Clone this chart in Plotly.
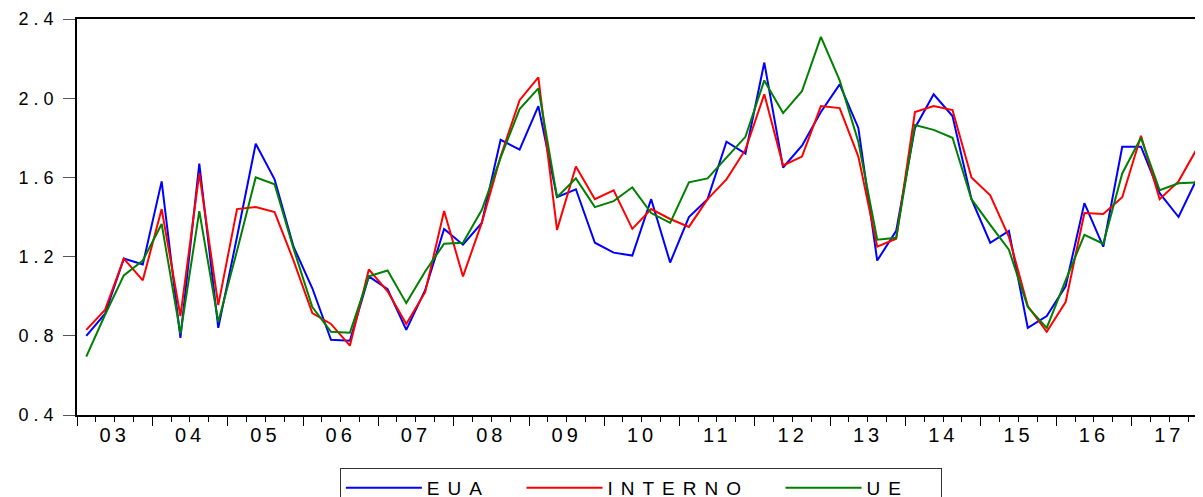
import pandas as pd
import plotly.graph_objects as go

quarters = pd.period_range("2003Q1", "2017Q4", freq="Q")
x_mid = [p.start_time + (p.end_time - p.start_time) / 2 for p in quarters]

eua = [0.80, 0.91, 1.19, 1.16, 1.58, 0.79, 1.67, 0.84, 1.30, 1.77,
       1.59, 1.25, 1.04, 0.78, 0.775, 1.10, 1.035, 0.83, 1.03, 1.34,
       1.26, 1.37, 1.79, 1.74, 1.96, 1.50, 1.54, 1.27, 1.22, 1.205,
       1.49, 1.17, 1.40, 1.49, 1.78, 1.72, 2.18, 1.65, 1.76, 1.93,
       2.07, 1.85, 1.18, 1.33, 1.85, 2.02, 1.91, 1.49, 1.27, 1.33,
       0.84, 0.90, 1.05, 1.47, 1.25, 1.755, 1.755, 1.52, 1.40, 1.60]

interno = [0.83, 0.93, 1.19, 1.08, 1.44, 0.90, 1.62, 0.955, 1.44, 1.45,
           1.425, 1.18, 0.915, 0.86, 0.75, 1.135, 1.025, 0.86, 1.02, 1.43,
           1.10, 1.37, 1.705, 1.99, 2.105, 1.335, 1.655, 1.49, 1.535, 1.34,
           1.44, 1.39, 1.35, 1.49, 1.59, 1.74, 2.02, 1.66, 1.705, 1.96,
           1.95, 1.705, 1.25, 1.29, 1.93, 1.96, 1.94, 1.60, 1.51, 1.30,
           0.95, 0.82, 0.97, 1.42, 1.415, 1.50, 1.81, 1.49, 1.58, 1.75]

ue = [0.695, 0.905, 1.105, 1.18, 1.365, 0.81, 1.43, 0.87, 1.23, 1.60,
      1.565, 1.24, 0.945, 0.82, 0.815, 1.10, 1.13, 0.965, 1.125, 1.265,
      1.27, 1.435, 1.70, 1.945, 2.05, 1.50, 1.595, 1.45, 1.48, 1.55,
      1.42, 1.37, 1.575, 1.595, 1.70, 1.805, 2.09, 1.925, 2.035, 2.31,
      2.09, 1.78, 1.285, 1.295, 1.865, 1.84, 1.80, 1.49, 1.36, 1.235,
      0.945, 0.84, 1.08, 1.31, 1.265, 1.62, 1.80, 1.535, 1.57, 1.575]

series_names = ["EUA", "INTERNO", "UE"]
series_colors = ["#0000FF", "#FF0000", "#008000"]
y_ticks = [0.4, 0.8, 1.2, 1.6, 2.0, 2.4]
y_ticktext = ["0.4", "0.8", "1.2", "1.6", "2.0", "2.4"]

FONT = "Liberation Sans, Arial, sans-serif"


def spaced(s, px, tail=""):
    return f'<span style="letter-spacing:{px}px">{s}{tail}</span>'


fig = go.Figure()
for name, vals, col in zip(series_names, [eua, interno, ue], series_colors):
    fig.add_trace(go.Scatter(x=x_mid, y=vals, mode="lines",
                             name=spaced(name, 8, "&nbsp;&nbsp;"),
                             line=dict(color=col, width=2)))

fig.update_layout(
    width=1203, height=497,
    margin=dict(l=69, r=4, t=11, b=90, autoexpand=False),
    paper_bgcolor="white", plot_bgcolor="white",
    font=dict(family=FONT, color="black"),
    showlegend=True,
    legend=dict(orientation="h",
                x=0.499, xanchor="center", y=-0.1334, yanchor="top",
                bordercolor="#333333", borderwidth=1, bgcolor="white",
                font=dict(size=19, family=FONT), itemwidth=76,
                tracegroupgap=0),
    xaxis=dict(
        type="date", automargin=False,
        range=["2003-01-01", "2018-01-01"],
        dtick="M12", tick0="2003-01-01",
        tickformat='<span style="letter-spacing:4px">%y</span>',
        ticklabelmode="period",
        ticks="outside", ticklen=9, tickwidth=1, tickcolor="black",
        showline=True, linecolor="black", linewidth=1.5, mirror=True,
        showgrid=False, zeroline=False,
        tickfont=dict(size=20, family=FONT),
        ticklabelstandoff=-8,
        minor=dict(dtick="M3", tick0="2003-01-01", ticks="outside", ticklen=5,
                   tickwidth=1, tickcolor="black", showgrid=False),
    ),
    yaxis=dict(
        range=[0.4, 2.4], tickvals=y_ticks,
        ticktext=[spaced(t, 5) for t in y_ticktext],
        automargin=False,
        ticks="outside", ticklen=12, tickwidth=1, tickcolor="#555555",
        showline=True, linecolor="black", linewidth=1.5, mirror=False,
        showgrid=False, zeroline=False,
        tickfont=dict(size=18, family=FONT),
        ticklabelstandoff=1,
    ),
)

fig.write_html("out.html")
